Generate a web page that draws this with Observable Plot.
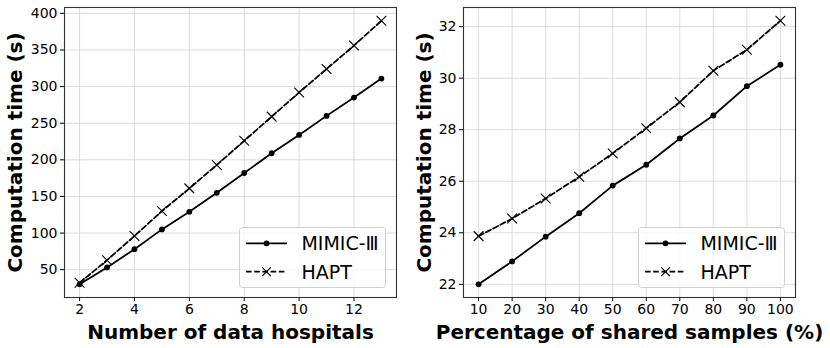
<!DOCTYPE html>
<html><head><meta charset="utf-8">
<script src="https://cdn.jsdelivr.net/npm/d3@7"></script>
<script src="https://cdn.jsdelivr.net/npm/@observablehq/plot@0.6"></script>
<style>
body{margin:0;background:#fff;font-family:"DejaVu Sans",sans-serif;}
#wrap{display:flex;width:830px;height:348px;}
.panel{position:relative;width:415px;height:348px;}
.legend{position:absolute;}
</style></head><body>
<div id="wrap"><div class="panel" id="p1"></div><div class="panel" id="p2"></div></div>
<script>
// ---- data ----
const seriesNames = ["MIMIC-Ⅲ", "HAPT"];
const hospitals = [2, 3, 4, 5, 6, 7, 8, 9, 10, 11, 12, 13];
const mimicByHospitals = [30, 53, 78, 105, 129, 155, 182, 209, 234, 260, 285, 311];
const haptByHospitals = [32, 63, 96, 130, 161, 193, 226, 259, 292, 324, 356, 390];
const sharedPct = [10, 20, 30, 40, 50, 60, 70, 80, 90, 100];
const mimicByShared = [22.0, 22.89, 23.85, 24.76, 25.83, 26.64, 27.66, 28.55, 29.69, 30.52];
const haptByShared = [23.87, 24.55, 25.33, 26.17, 27.08, 28.06, 29.07, 30.29, 31.1, 32.23];
const leftXTicks = [2, 4, 6, 8, 10, 12];
const leftYTicks = [50, 100, 150, 200, 250, 300, 350, 400];
const rightXTicks = [10, 20, 30, 40, 50, 60, 70, 80, 90, 100];
const rightYTicks = [22, 24, 26, 28, 30, 32];
const yTitle = "Computation time (s)";
const leftXTitle = "Number of data hospitals";
const rightXTitle = "Percentage of shared samples (%)";

function padExt(vals) {
  const [lo, hi] = d3.extent(vals);
  const p = 0.05 * (hi - lo);
  return [lo - p, hi + p];
}

const W = 415, H = 348, MT = 7, MB = 51;
const DASH = "5.6,2.6";

function panel(el, {xs, a, b, xTicks, yTicks, xLabel, marginLeft, marginRight, yLabelDx}) {
  const rows = xs.map((v, i) => ({x: v, mimic: a[i], hapt: b[i]}));
  const chart = Plot.plot({
    width: W, height: H, marginLeft, marginRight, marginTop: MT, marginBottom: MB,
    style: {fontFamily: "DejaVu Sans", fontSize: "14px", color: "#000", background: "#fff", overflow: "visible"},
    x: {domain: padExt(xs), ticks: xTicks, tickSize: 4, tickPadding: 3, label: null},
    y: {domain: padExt([...a, ...b]), ticks: yTicks, tickSize: 4, tickPadding: 3, label: null},
    marks: [
      Plot.gridX(xTicks, {stroke: "#dcdcdc", strokeOpacity: 1, strokeWidth: 1}),
      Plot.gridY(yTicks, {stroke: "#dcdcdc", strokeOpacity: 1, strokeWidth: 1}),
      Plot.line(rows, {x: "x", y: "mimic", stroke: "#000", strokeWidth: 1.8}),
      Plot.dot(rows, {x: "x", y: "mimic", r: 2.9, fill: "#000"}),
      Plot.line(rows, {x: "x", y: "hapt", stroke: "#000", strokeWidth: 1.8, strokeDasharray: DASH}),
      Plot.dot(rows, {x: "x", y: "hapt", symbol: "times", r: 4.5, stroke: "#000", strokeWidth: 1.1}),
      Plot.frame({stroke: "#333", strokeWidth: 1.1}),
      Plot.text([xLabel], {text: d => d, frameAnchor: "bottom", textAnchor: "middle", lineAnchor: "middle", dy: 34.6, fontWeight: "bold", fontSize: 20, fill: "#000"}),
      Plot.text([yTitle], {text: d => d, frameAnchor: "left", textAnchor: "middle", lineAnchor: "middle", dx: yLabelDx, rotate: -90, fontWeight: "bold", fontSize: 20, fill: "#000"})
    ]
  });
  el.appendChild(chart);

  // legend (inside the frame, lower right)
  const lw = 147, lh = 61;
  const frameRight = W - marginRight, frameBottom = H - MB;
  const lg = d3.select(el).append("div").attr("class", "legend")
    .style("left", (frameRight - 10 - lw) + "px")
    .style("top", (frameBottom - 9.5 - lh) + "px");
  const svg = lg.append("svg").attr("width", lw).attr("height", lh);
  svg.append("rect").attr("x", 0.5).attr("y", 0.5).attr("width", lw - 1).attr("height", lh - 1)
    .attr("rx", 3).attr("fill", "rgba(255,255,255,0.8)").attr("stroke", "#cfcfcf");
  const rowsY = [16.3, 44.7];
  seriesNames.forEach((name, i) => {
    const y = rowsY[i];
    svg.append("line").attr("x1", 7).attr("x2", 48).attr("y1", y).attr("y2", y)
      .attr("stroke", "#000").attr("stroke-width", 1.8)
      .attr("stroke-dasharray", i === 1 ? DASH : null);
    if (i === 0) {
      svg.append("circle").attr("cx", 27.5).attr("cy", y).attr("r", 2.9).attr("fill", "#000");
    } else {
      const s = 4.3;
      svg.append("path").attr("d", `M${27.5 - s},${y - s}L${27.5 + s},${y + s}M${27.5 - s},${y + s}L${27.5 + s},${y - s}`)
        .attr("stroke", "#000").attr("stroke-width", 1.1).attr("fill", "none");
    }
    svg.append("text").attr("x", 62.4).attr("y", y).attr("dy", "0.36em")
      .attr("font-family", "DejaVu Sans").attr("font-size", 19).attr("fill", "#000").text(name);
  });
}

panel(document.getElementById("p1"), {
  xs: hospitals, a: mimicByHospitals, b: haptByHospitals,
  xTicks: leftXTicks, yTicks: leftYTicks, xLabel: leftXTitle,
  marginLeft: 64, marginRight: 19, yLabelDx: -49.2
});
panel(document.getElementById("p2"), {
  xs: sharedPct, a: mimicByShared, b: haptByShared,
  xTicks: rightXTicks, yTicks: rightYTicks, xLabel: rightXTitle,
  marginLeft: 48, marginRight: 35, yLabelDx: -39
});
</script>
</body></html>
